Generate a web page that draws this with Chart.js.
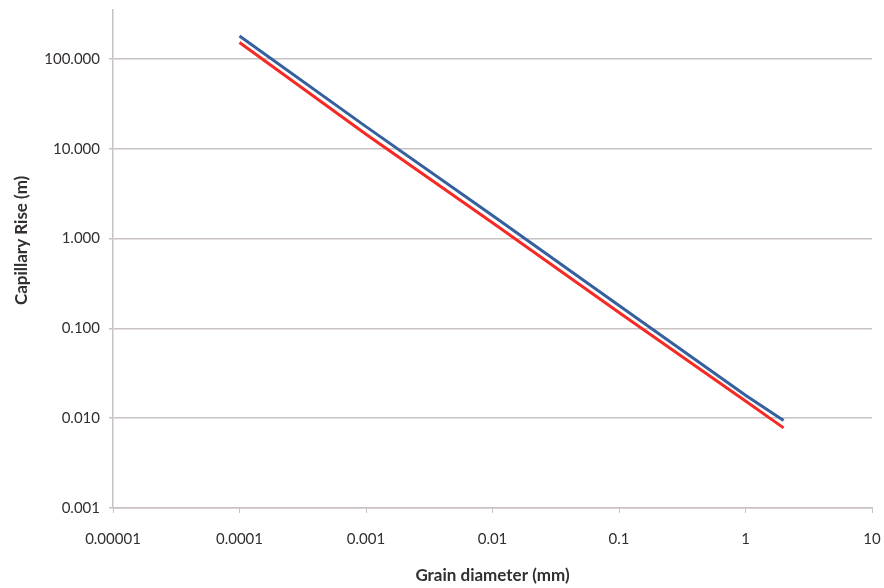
<!DOCTYPE html>
<html><head><meta charset="utf-8">
<script src="https://cdn.jsdelivr.net/npm/chart.js@4/dist/chart.umd.min.js"></script>
<style>html,body{margin:0;padding:0;background:#fff}</style>
</head><body>
<canvas id="c" width="884" height="588" style="display:block;width:884px;height:588px"></canvas>
<script>
const grainDiameter = [0.0001, 0.001, 0.01, 0.1, 1, 2];
const riseBlue = [180, 17.6, 1.8, 0.18, 0.018, 0.0094];
const riseRed = [152, 14.5, 1.5, 0.15, 0.0155, 0.0078];
const xTickValues = [0.00001, 0.0001, 0.001, 0.01, 0.1, 1, 10];
const xTickLabels = ['0.00001', '0.0001', '0.001', '0.01', '0.1', '1', '10'];
const yTickValues = [0.001, 0.01, 0.1, 1, 10, 100];
const yTickLabels = ['0.001', '0.010', '0.100', '1.000', '10.000', '100.000'];

const toPts = (xs, ys) => xs.map((x, i) => ({x: x, y: ys[i]}));
const gridCol = '#c9c2c2';
const textCol = '#332f2f';
const fontFam = 'Lato, "Open Sans", sans-serif';
const noPad = s => { s.paddingLeft = 0; s.paddingRight = 0; s.paddingTop = 0; s.paddingBottom = 0; };

new Chart(document.getElementById('c'), {
  type: 'line',
  data: {
    datasets: [
      {data: toPts(grainDiameter, riseBlue), borderColor: '#35609e', borderWidth: 3, pointRadius: 0, fill: false, tension: 0},
      {data: toPts(grainDiameter, riseRed), borderColor: '#f52a24', borderWidth: 3, pointRadius: 0, fill: false, tension: 0}
    ]
  },
  options: {
    responsive: false,
    animation: false,
    layout: {padding: {top: 10, right: 12, bottom: 0, left: 0}},
    plugins: {legend: {display: false}, tooltip: {enabled: false}},
    scales: {
      x: {
        type: 'logarithmic',
        min: 0.00001, max: 10,
        afterBuildTicks: s => { s.ticks = xTickValues.map(v => ({value: v})); },
        afterFit: s => { s.height = 80; noPad(s); },
        ticks: {
          autoSkip: false, maxRotation: 0, padding: 17, color: textCol,
          font: {family: fontFam, size: 15},
          callback: (v, i) => xTickLabels[i]
        },
        grid: {drawOnChartArea: false, drawTicks: true, tickLength: 5, color: gridCol, lineWidth: 1},
        border: {display: true, color: gridCol, width: 1.5},
        title: {display: true, text: 'Grain diameter (mm)', color: textCol, font: {family: fontFam, size: 17, weight: 'bold'}, padding: {top: 0, bottom: 2}}
      },
      y: {
        type: 'logarithmic',
        min: 0.001, max: 350,
        afterBuildTicks: s => { s.ticks = yTickValues.map(v => ({value: v})); },
        afterFit: s => { s.width = 113; noPad(s); },
        ticks: {
          autoSkip: false, padding: 9, color: textCol,
          font: {family: fontFam, size: 15},
          callback: (v, i) => yTickLabels[i]
        },
        grid: {drawOnChartArea: true, drawTicks: true, tickLength: 4, color: gridCol, lineWidth: 1.5},
        border: {display: true, color: gridCol, width: 1.5},
        title: {display: true, text: '         Capillary Rise (m)', color: textCol, font: {family: fontFam, size: 17, weight: 'bold'}, padding: {top: 11, bottom: 0}}
      }
    }
  }
});
</script>
</body></html>
